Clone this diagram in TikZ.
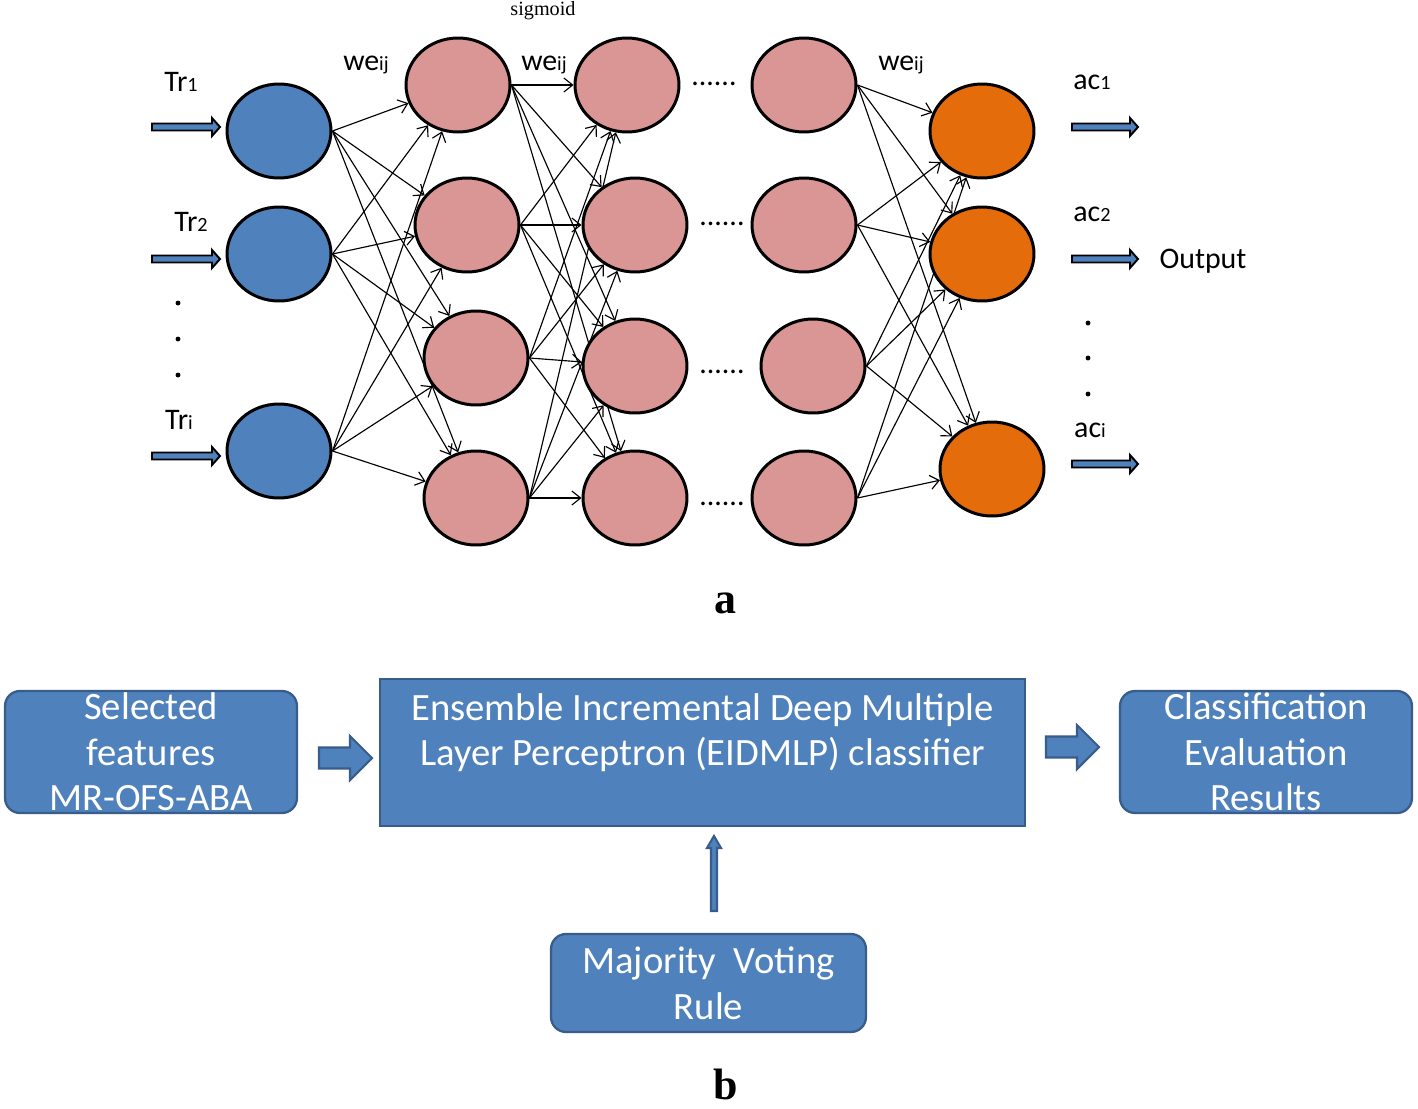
\documentclass[tikz,border=0pt]{standalone}
\usepackage{fontspec}
\setmainfont{Carlito}
\newfontfamily\serifface{Liberation Serif}
\usetikzlibrary{shapes.geometric,arrows.meta,backgrounds}
\definecolor{nblue}{HTML}{4F81BD}
\definecolor{npink}{HTML}{D99694}
\definecolor{norange}{HTML}{E46C0A}
\definecolor{bborder}{HTML}{385D8A}
\newcommand\smsub[1]{{\fontsize{11.5}{11.5}\selectfont #1}}
% right-pointing block arrow: x0, xtip, y, shaft half, head half, head length, style
\newcommand\rBlock[7]{\draw[#7] (#1,{#3-#4}) -- ({#2-#6},{#3-#4}) -- ({#2-#6},{#3-#5}) -- (#2,#3) -- ({#2-#6},{#3+#5}) -- ({#2-#6},{#3+#4}) -- (#1,{#3+#4}) -- cycle;}
% up-pointing block arrow: x, ybottom, ytip, shaft half, head half, head length, style
\newcommand\uBlock[7]{\draw[#7] ({#1-#4},#2) -- ({#1-#4},{#3+#6}) -- ({#1-#5},{#3+#6}) -- (#1,#3) -- ({#1+#5},{#3+#6}) -- ({#1+#4},{#3+#6}) -- ({#1+#4},#2) -- cycle;}
\begin{document}
\begin{tikzpicture}[x=0.02cm,y=-0.02cm,
  neuron/.style={ellipse, draw=black, line width=1.7pt, minimum width=2.08cm, minimum height=1.88cm, inner sep=0pt},
  inn/.style={neuron, fill=nblue},
  hid/.style={neuron, fill=npink},
  outn/.style={neuron, fill=norange},
  conn/.style={-{Straight Barb[length=5pt,width=8pt]}, line width=0.65pt},
  lab/.style={font=\fontsize{17}{20}\selectfont, inner sep=0pt},
  inarr/.style={draw=black, fill=nblue, line width=1.1pt},
  box/.style={draw=bborder, fill=nblue, line width=1.3pt, text=white, align=center, font=\fontsize{22}{26}\selectfont, inner sep=0pt},
  rbox/.style={box, rounded corners=0.3cm},
  barr/.style={draw=bborder, fill=nblue, line width=1.2pt},
  dotsl/.style={font=\fontsize{17}{20}\selectfont, inner sep=0pt}
]
\useasboundingbox (0,0) rectangle (1418,1109);

% ---------- part a : network ----------
\node[inn] (i1) at (279,131) {};
\node[inn] (i2) at (279,254) {};
\node[inn] (i3) at (279,451) {};

\node[hid] (h1) at (458,85) {};
\node[hid] (h2) at (467,225) {};
\node[hid] (h3) at (476,358) {};
\node[hid] (h4) at (476,498) {};

\node[hid] (g1) at (627,85) {};
\node[hid] (g2) at (635,225) {};
\node[hid] (g3) at (635,366) {};
\node[hid] (g4) at (635,498) {};

\node[hid] (l1) at (804,85) {};
\node[hid] (l2) at (804,225) {};
\node[hid] (l3) at (813,366) {};
\node[hid] (l4) at (804,498) {};

\node[outn] (o1) at (982,131) {};
\node[outn] (o2) at (982,254) {};
\node[outn] (o3) at (992,469) {};

\begin{scope}[on background layer]
\fill[white] (0,0) rectangle (1418,1109);
\foreach \a in {1,2,3} \foreach \b in {1,...,4} \draw[conn] (i\a.east) -- (h\b);
\foreach \a in {1,...,4} \foreach \b in {1,...,4} \draw[conn] (h\a.east) -- (g\b);
\foreach \a in {1,...,4} \foreach \b in {1,2,3} \draw[conn] (l\a.east) -- (o\b);
\end{scope}

% dotted gaps between layers
\node[dotsl] (d1) at (714,84) {......};
\node[dotsl] (d2) at (722,224) {......};
\node[dotsl] (d3) at (722,372) {......};
\node[dotsl] (d4) at (722,504) {......};

% input arrows and labels
\rBlock{152}{220}{127}{3.5}{9}{8}{inarr}
\rBlock{152}{220}{259}{3.5}{9}{8}{inarr}
\rBlock{152}{220}{456}{3.5}{9}{8}{inarr}
\node[lab] (t1) at (181,82) {Tr\smsub{1}};
\node[lab] (t2) at (191,222) {Tr\smsub{2}};
\node[lab] (t3) at (179,420) {Tr\smsub{i}};
\foreach \yy in {303,339,375} \fill (178,\yy) circle (1.4pt);

% weights
\node[lab] (w1) at (366,65) {we\smsub{ij}};
\node[lab] (w2) at (544,65) {we\smsub{ij}};
\node[lab] (w3) at (901,65) {we\smsub{ij}};
\node[inner sep=0pt, font=\serifface\fontsize{11.5}{13}\selectfont] (sg) at (543,11) {sigmoid};

% output arrows and labels
\rBlock{1072}{1138}{127}{3.5}{9}{8}{inarr}
\rBlock{1072}{1138}{259}{3.5}{9}{8}{inarr}
\rBlock{1072}{1138}{464}{3.5}{9}{8}{inarr}
\node[lab] (a1) at (1092,82) {ac\smsub{1}};
\node[lab] (a2) at (1092,214) {ac\smsub{2}};
\node[lab] (a3) at (1090,430) {ac\smsub{i}};
\node[lab] (outp) at (1203,261) {Output};
\foreach \yy in {323,358,394} \fill (1088,\yy) circle (1.4pt);

\node[inner sep=0pt, font=\serifface\bfseries\fontsize{25}{30}\selectfont] (capa) at (725,603) {a};

% ---------- part b : flow ----------
\node[rbox, minimum width=5.84cm, minimum height=2.44cm] (sel) at (151,752) {Selected\\features\\MR-OFS-ABA};
\node[box, minimum width=12.9cm, minimum height=2.94cm] (ens) at (702.5,752.5) {Ensemble Incremental Deep Multiple\\Layer Perceptron (EIDMLP) classifier\\\mbox{}};
\node[rbox, minimum width=5.84cm, minimum height=2.44cm] (cls) at (1266,752) {Classification\\Evaluation\\Results};
\node[rbox, minimum width=6.3cm, minimum height=1.96cm] (maj) at (708.5,983) {Majority\ \ Voting\\Rule};

\rBlock{319}{372}{758}{10.5}{22}{22}{barr}
\rBlock{1046}{1099}{747}{10.5}{22}{22}{barr}
\uBlock{714}{911}{836}{3}{7}{12}{barr}

\node[inner sep=0pt, font=\serifface\bfseries\fontsize{25}{30}\selectfont] (capb) at (726,1084) {b};
\end{tikzpicture}
\end{document}
